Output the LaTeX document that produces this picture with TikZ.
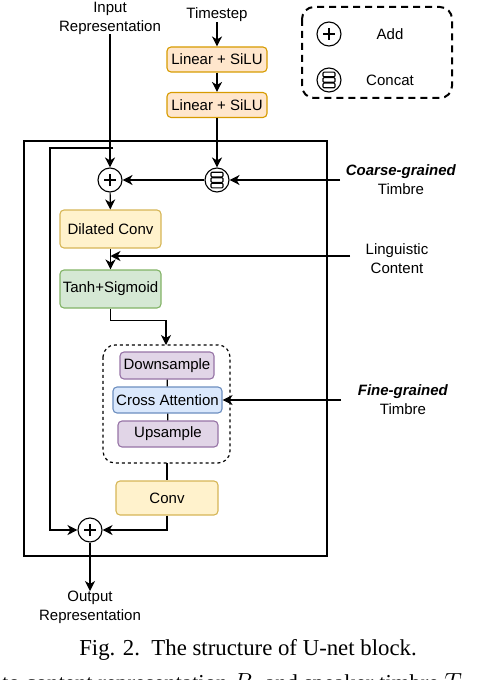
\documentclass[tikz,border=0pt]{standalone}
\usepackage{fontspec}
\setmainfont{Liberation Sans}
\newfontfamily\capfont{Liberation Serif}
\usetikzlibrary{arrows.meta,positioning}

\definecolor{orfill}{HTML}{FFE6CC}\definecolor{ordraw}{HTML}{D79B00}
\definecolor{yefill}{HTML}{FFF2CC}\definecolor{yedraw}{HTML}{D6B656}
\definecolor{grfill}{HTML}{D5E8D4}\definecolor{grdraw}{HTML}{82B366}
\definecolor{pufill}{HTML}{E1D5E7}\definecolor{pudraw}{HTML}{9673A6}
\definecolor{blfill}{HTML}{DAE8FC}\definecolor{bldraw}{HTML}{6C8EBF}

\tikzset{
  txt/.style={font=\fontsize{15bp}{19bp}\selectfont,align=center,inner sep=0pt},
  blk/.style={txt,draw,rounded corners=4bp,line width=1.1bp},
  orbox/.style={blk,fill=orfill,draw=ordraw,minimum width=100bp,minimum height=25bp},
  yebox/.style={blk,fill=yefill,draw=yedraw},
  grbox/.style={blk,fill=grfill,draw=grdraw},
  pubox/.style={blk,fill=pufill,draw=pudraw},
  blbox/.style={blk,fill=blfill,draw=bldraw},
  arr/.style={line width=1.2bp,-{Stealth[length=10bp,width=10bp,inset=3bp]}},
  ln/.style={line width=1.2bp},
  addop/.style={circle,draw,line width=1.1bp,minimum size=24bp,inner sep=0pt,fill=white,
    path picture={\draw[line width=1.1bp] ([xshift=-6bp]path picture bounding box.center) -- ++(12bp,0)
      ([yshift=-6bp]path picture bounding box.center) -- ++(0,12bp);}},
  catop/.style={circle,draw,line width=1.1bp,minimum size=24bp,inner sep=0pt,fill=white,
    path picture={\foreach \dy in {-5.5,0,5.5}
      \draw[line width=1.1bp,rounded corners=1bp,fill=white] ([xshift=-6bp,yshift=\dy bp-2.3bp]path picture bounding box.center) rectangle ++(12bp,4.6bp);}}
}

\begin{document}
\begin{tikzpicture}[x=1bp,y=-1bp]
    \useasboundingbox (0,0) rectangle (490,680);

    % legend
    \draw[line width=2bp,dash pattern=on 7bp off 5bp,rounded corners=12bp] (302,7) rectangle (452,98);
    \node[addop] (addL) at (329,34) {};
    \node[txt] (addT) at (390,34) {Add};
    \node[catop] (catL) at (329,80) {};
    \node[txt] (catT) at (390,80) {Concat};

    % u-net block frame
    \draw[line width=2.2bp] (24,141) rectangle (327,556);

    \node[txt] (inrep) at (110,18) {Input\\Representation};
    \node[txt] (tstep) at (217,15) {Timestep};
    \node[orbox] (lin1) at (217,59.5) {Linear + SiLU};
    \node[orbox] (lin2) at (217,105) {Linear + SiLU};

    \node[addop] (add1) at (110,180) {};
    \node[catop] (cat) at (217,180) {};
    \node[txt] (coarse) at (401,180) {\textbf{\textit{Coarse-grained}}\\Timbre};
    \coordinate (coarseIn) at (340,180);

    \node[yebox,minimum width=101bp,minimum height=38bp] (dil) at (110.5,229) {Dilated Conv};
    \node[grbox,minimum width=101bp,minimum height=38bp] (tanh) at (110.5,289) {Tanh+Sigmoid};
    \node[txt] (ling) at (397,259) {Linguistic\\Content};
    \coordinate (lingIn) at (350,256);

    \draw[line width=1.2bp,dashed,rounded corners=12bp] (103,345) rectangle (230,463);
    \coordinate (grpN) at (166,345);
    \coordinate (grpS) at (167,463);
    \node[pubox,minimum width=94bp,minimum height=27bp] (down) at (167,365.5) {Downsample};
    \node[blbox,minimum width=109bp,minimum height=26bp] (cross) at (167.5,400) {Cross Attention};
    \node[pubox,minimum width=100bp,minimum height=26bp] (up) at (168,434) {Upsample};
    \node[txt] (fine) at (403,400) {\textbf{\textit{Fine-grained}}\\Timbre};
    \coordinate (fineIn) at (341,400);

    \node[yebox,minimum width=102bp,minimum height=34bp] (conv) at (167,498) {Conv};
    \node[addop] (add2) at (90,530) {};
    \node[txt,anchor=north] (outrep) at (90,591) {Output\\Representation};

    % connectors
    \coordinate (split) at (113,148);
    \draw[arr] (inrep.south) -- (add1.north);
    \draw[arr] (split) -- (50,148) |- (add2.west);
    \draw[arr] (tstep.south) -- (lin1.north);
    \draw[arr] (lin1) -- (lin2);
    \draw[arr] (lin2) -- (cat);
    \draw[arr] (coarseIn) -- (cat);
    \draw[arr] (cat) -- (add1);
    \draw[arr] (add1) -- (dil);
    \draw[arr] (dil) -- (tanh);
    \draw[arr] (lingIn) -- (lingIn -| dil);
    \draw[arr] (tanh.south) -- ++(0,12) -| (grpN);
    \draw[ln] (down) -- (cross);
    \draw[ln] (cross) -- (up);
    \draw[arr] (fineIn) -- (cross.east);
    \draw[ln] (grpS) -- (conv.north);
    \draw[arr] (conv.south) |- (add2.east);
    \draw[arr] (add2.south) -- (outrep.north);

    % caption
    \node[font=\capfont\fontsize{22.8bp}{27bp}\selectfont,anchor=base,inner sep=0pt] (cap) at (248,655) {Fig. 2.\ \ The structure of U-net block.};
    \node[font=\capfont\fontsize{22.8bp}{27bp}\selectfont,anchor=base west,inner sep=0pt] (next) at (2,690) {to content representation $R_c$ and speaker timbre $T$};
\end{tikzpicture}
\end{document}
